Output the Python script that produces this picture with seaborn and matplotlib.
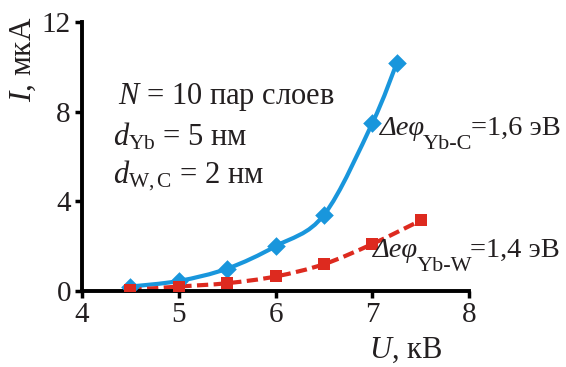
import matplotlib
matplotlib.use("Agg")
import matplotlib.pyplot as plt
from matplotlib.path import Path
from matplotlib.patches import PathPatch
import seaborn as sns
import pandas as pd
import numpy as np

# Data
u_c = [4.5, 5.0, 5.5, 6.0, 6.5, 7.0, 7.25]
i_c = [0.2, 0.45, 1.0, 2.0, 3.4, 7.5, 10.15]
u_w = [4.5, 5.0, 5.5, 6.0, 6.5, 7.0, 7.5]
i_w = [0.05, 0.2, 0.35, 0.65, 1.2, 2.1, 3.15]

x_ticks = [4, 5, 6, 7, 8]
y_ticks = [0, 4, 8, 12]

blue = '#1996dc'
red = '#dd2a1f'
tc = '#231f20'


def smooth_path(x, y):
    # Excel-style smoothed line: cubic Bezier segments through the points
    p = np.column_stack([x, y])
    ext = np.vstack([p[0], p, p[-1]])
    verts = [p[0]]
    codes = [Path.MOVETO]
    for i in range(len(p) - 1):
        c1 = ext[i + 1] + (ext[i + 2] - ext[i]) / 6
        c2 = ext[i + 2] - (ext[i + 3] - ext[i + 1]) / 6
        verts += [c1, c2, ext[i + 2]]
        codes += [Path.CURVE4] * 3
    return Path(verts, codes)


sns.set_theme(style="white")
plt.rcParams['font.family'] = ['Liberation Serif', 'DejaVu Serif']
plt.rcParams['mathtext.fontset'] = 'custom'
plt.rcParams['mathtext.rm'] = 'Liberation Serif'
plt.rcParams['mathtext.it'] = 'Liberation Serif:italic'

df_c = pd.DataFrame({'U': u_c, 'I': i_c})
df_w = pd.DataFrame({'U': u_w, 'I': i_w})

fig = plt.figure(figsize=(5.66, 3.67), dpi=100)
ax = fig.add_axes([0.145, 0.207, 0.684, 0.733])

ax.add_patch(PathPatch(smooth_path(u_c, i_c), fill=False, edgecolor=blue,
                       lw=3, capstyle='butt', zorder=2))
ax.add_patch(PathPatch(smooth_path(u_w, i_w), fill=False, edgecolor=red,
                       lw=3, linestyle=(0, (2.7, 1.3)), zorder=2))
sns.scatterplot(data=df_c, x='U', y='I', ax=ax, color=blue, marker='D',
                s=90, linewidth=0, zorder=3)
sns.scatterplot(data=df_w, x='U', y='I', ax=ax, color=red, marker='s',
                s=85, linewidth=0, zorder=3)

ax.set_xlim(4, 8)
ax.set_ylim(0, 12)
ax.set_xticks(x_ticks)
ax.set_yticks(y_ticks)
ax.tick_params(axis='both', labelsize=21, length=5, width=2.5, direction='out',
               color='black', labelcolor=tc, pad=3)
ax.tick_params(axis='x', bottom=True)
ax.tick_params(axis='y', left=True)
for s in ['top', 'right']:
    ax.spines[s].set_visible(False)
for s in ['left', 'bottom']:
    ax.spines[s].set_color('black')
    ax.spines[s].set_linewidth(2.8)
ax.grid(False)

ax.set_xlabel(r'$\mathit{U}$, кВ', fontsize=22, color=tc, va='center')
ax.xaxis.set_label_coords(0.835, -0.22)
ax.set_ylabel(r'$\mathit{I}$, мкА', fontsize=22.5, color=tc, va='center')
ax.yaxis.set_label_coords(-0.152, 0.86)

ax.text(4.37, 8.35, r'$\mathit{N}$ = 10 пар слоев', fontsize=22, color=tc)
ax.text(4.32, 6.5, r'$\mathit{d}_{\mathrm{Yb}}$ = 5 нм', fontsize=22, color=tc)
ax.text(4.32, 4.8, r'$\mathit{d}_{\mathrm{W,C}}$ = 2 нм', fontsize=22, color=tc)

# "Δeφ" in italic, a large low subscript after it, then the value
for x0, y0, sub, val in [(7.08, 6.95, 'Yb-C', '1,6'),
                         (7.01, 1.5, 'Yb-W', '1,4')]:
    t1 = ax.text(x0, y0, 'Δeφ', fontsize=20.5, color=tc, style='italic')
    t2 = ax.annotate(sub, xy=(1, 0), xycoords=t1, xytext=(-1.5, 4.5),
                     textcoords='offset points', va='top', ha='left',
                     fontsize=16, color=tc)
    ax.annotate('=' + val + ' эВ', xy=(1, 0), xycoords=(t2, t1),
                xytext=(-1.5, 0), textcoords='offset points',
                va='bottom', ha='left', fontsize=20.5, color=tc)

fig.savefig('out.png', dpi=100)
